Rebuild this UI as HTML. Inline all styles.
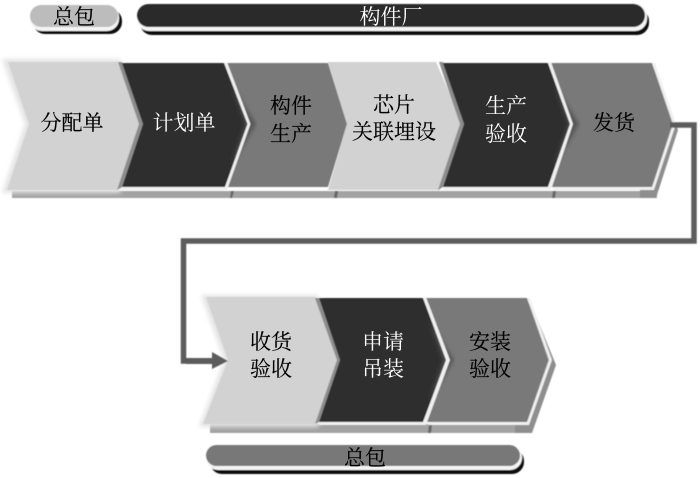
<!DOCTYPE html>
<html><head><meta charset="utf-8">
<style>
html,body{margin:0;padding:0;background:#fff;width:700px;height:478px;overflow:hidden}
svg{display:block}
text{font-family:"Noto Serif CJK SC","Noto Serif CJK JP",serif;font-size:21px;font-weight:400;text-anchor:middle;dominant-baseline:central;fill:#000;stroke:#000;stroke-width:.15px}
text.w{fill:#fff;stroke:none;font-weight:400}
</style></head>
<body>
<svg width="700" height="478" viewBox="0 0 700 478" xmlns="http://www.w3.org/2000/svg">
<defs>
<filter id="b" x="-5%" y="-5%" width="110%" height="110%"><feGaussianBlur stdDeviation="0.6"/></filter>
<filter id="h" x="-5%" y="-10%" width="110%" height="120%"><feGaussianBlur stdDeviation="2"/></filter>
<filter id="t" x="-10%" y="-10%" width="120%" height="120%"><feGaussianBlur stdDeviation="0.25"/></filter>
</defs>
<g filter="url(#b)">
<!-- top pills -->
<rect x="33" y="9" width="89" height="25" rx="12" fill="#111"/>
<rect x="30" y="5" width="89" height="26" rx="12" fill="#f4f4f4"/>
<rect x="30" y="5" width="88" height="22" rx="11" fill="#bcbcbc"/>
<rect x="140" y="9" width="509" height="26" rx="12" fill="#111"/>
<rect x="137" y="4" width="510" height="27" rx="12" fill="#f4f4f4"/>
<rect x="137" y="4" width="508" height="23" rx="11.500" fill="#2c2c2c"/>

<!-- top row shadow -->
<path d="M12 191H657V198H12Z" fill="#a2a2a2"/>
<path d="M655 66L678 130L656 198H640V100Z" fill="#8e8e8e"/>
<path d="M231 191H234L232 198H230Z" fill="#666"/>
<path d="M335 191H338L337 198H334Z" fill="#666"/>
<path d="M553 191H556L555 198H552Z" fill="#666"/>

<!-- top row chevrons -->
<path d="M2 59H120L142 124L120 193H2L25 124Z" fill="#e4e4e4" filter="url(#h)"/>
<path d="M8 62H118L139 124L117 190H7L29 124Z" fill="#d2d2d2"/>
<path d="M118 62H122L143 124L122 187L117 190L139 124Z" fill="#8c8c8c"/>
<path d="M122 63H225L248 124L225 187H122L143 124Z" fill="#2e2e2e"/>
<path d="M226 63H328L347 124L328 187H226L248 124Z" fill="#797979"/>
<path d="M232 85L256 124L232 165L246 124Z" fill="#555" filter="url(#h)"/>
<path d="M227 62L250.500 124L227 190H122V187H225L247.500 124L224 63Z" fill="#f0f0f0"/>
<path d="M328 62H436L463 124L440 190H328L347 124Z" fill="#d2d2d2"/>
<path d="M439 62H443L464 124L443 187L438 190L460 124Z" fill="#8c8c8c"/>
<path d="M443 63H548L570 124L548 187H443L464 124Z" fill="#2e2e2e"/>
<path d="M549 63H652L672 124L652 187H549L571 124Z" fill="#797979"/>
<path d="M555 85L579 124L555 165L569 124Z" fill="#555" filter="url(#h)"/>
<path d="M551 62L573 124L551 190H443V187H548L570 124L548 63Z" fill="#f0f0f0"/>
<path d="M652 63L673 124L652 187H553V190H654L676 124L655 63Z" fill="#f0f0f0"/>

<!-- connector -->
<path d="M670 125H694V241H183.500V361H214" fill="none" stroke="#5c5c5c" stroke-width="5.500"/>

<!-- lower shadow -->
<path d="M210 424H532V433H210Z" fill="#a2a2a2"/>
<path d="M530 301L556 365L532 433H515V330Z" fill="#8e8e8e"/>
<path d="M429 425H432L431 433H428Z" fill="#666"/>

<!-- lower chevrons -->
<path d="M201 295H318L342 360L318 427H199L224 360Z" fill="#e4e4e4" filter="url(#h)"/>
<path d="M206 297H315L338 360L315 424H203L228 360Z" fill="#d2d2d2"/>
<path d="M315 298H319L340 360L319 422L315 424L337 360Z" fill="#8c8c8c"/>
<path d="M319 298H423L447 360L423 422H319L340 360Z" fill="#2e2e2e"/>
<path d="M424 298H527L548 360L527 422H424L447 360Z" fill="#797979"/>
<path d="M430 322L454 360L430 400L444 360Z" fill="#555" filter="url(#h)"/>
<path d="M426 297L450 360L426 425H319V422H423L446 360L423 298Z" fill="#f0f0f0"/>
<path d="M527 298L549 360L527 422H428V425H529L552 360L530 298Z" fill="#f0f0f0"/>
<!-- arrow over chevron -->
<path d="M186 358H212V352L228 361L212 369V364H186Z" fill="#5c5c5c"/>

<!-- bottom pill -->
<rect x="210" y="449" width="314" height="25" rx="12" fill="#111"/>
<rect x="206" y="445" width="316" height="25" rx="12" fill="#f4f4f4"/>
<rect x="206" y="445" width="314" height="21" rx="10.500" fill="#787878"/>
</g>

<g filter="url(#t)">
<!-- labels -->
<text x="74" y="16">总包</text>
<text class="w" x="391" y="16">构件厂</text>
<text x="365" y="457">总包</text>

<text x="72" y="122">分配单</text>
<text class="w" x="184" y="122">计划单</text>
<text x="291" y="105">构件</text>
<text x="291" y="133">生产</text>
<text x="394" y="104">芯片</text>
<text x="394" y="131">关联埋设</text>
<text class="w" x="506" y="105">生产</text>
<text class="w" x="506" y="133">验收</text>
<text x="614" y="122">发货</text>

<text x="271" y="341">收货</text>
<text x="271" y="368">验收</text>
<text class="w" x="383" y="341">申请</text>
<text class="w" x="383" y="368">吊装</text>
<text x="490" y="341">安装</text>
<text x="490" y="368">验收</text>
</g>
</svg>
</body></html>
